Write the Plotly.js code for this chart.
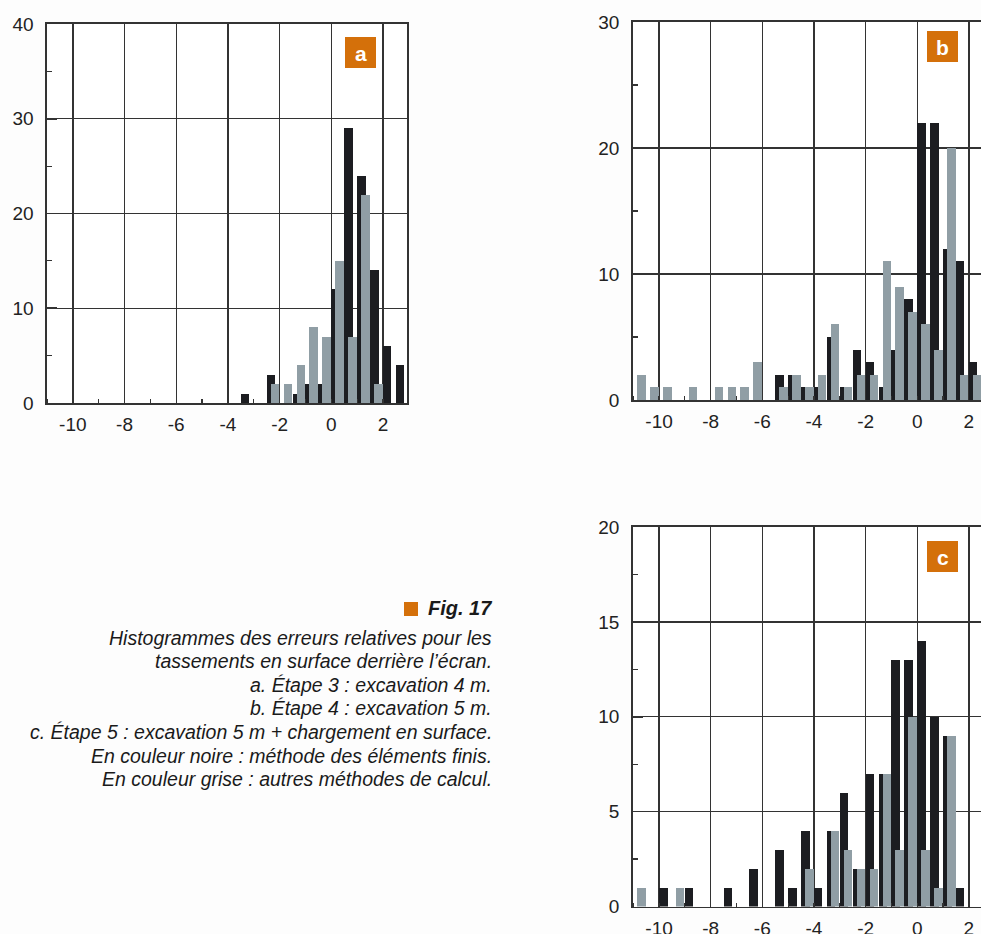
<!DOCTYPE html>
<html><head><meta charset="utf-8">
<script src="https://cdn.plot.ly/plotly-3.0.1.min.js"></script>
<style>body{margin:0;background:#fdfdfd}#chart{width:981px;height:934px}</style>
</head><body><div id="chart"></div><script>
// bin start positions (relative error)
const bins = [-11,-10.5,-10,-9.5,-9,-8.5,-8,-7.5,-7,-6.5,-6,-5.5,-5,-4.5,-4,-3.5,-3,-2.5,-2,-1.5,-1,-0.5,0,0.5,1,1.5,2,2.5];
// a. Étape 3
const blackA = [0,0,0,0,0,0,0,0,0,0,0,0,0,0,0,1,0,3,0,1,2,2,12,29,24,14,6,4];
const grayA  = [0,0,0,0,0,0,0,0,0,0,0,0,0,0,0,0,0,2,2,4,8,7,15,7,22,2,0,0];
// b. Étape 4
const blackB = [0,0,0,0,0,0,0,0,0,0,0,2,2,1,1,5,1,4,3,1,4,8,22,22,12,11,3,0];
const grayB  = [2,1,1,0,1,0,1,1,1,3,0,1,2,1,2,6,1,2,2,11,9,7,6,4,20,2,2,0];
// c. Étape 5
const blackC = [0,0,1,0,1,0,0,1,0,2,0,3,1,4,1,4,6,2,7,7,13,13,14,10,9,1,0,0];
const grayC  = [1,0,0,1,0,0,0,0,0,0,0,0,0,2,0,4,3,2,2,7,3,10,3,1,9,0,0,0];
const xTicks = [-10,-8,-6,-4,-2,0,2];
const panelLabels = ['a','b','c'];
const captionTitle = 'Fig. 17';
const captionLines = [
  'Histogrammes des erreurs relatives pour les',
  'tassements en surface derrière l\u2019écran.',
  'a. Étape 3 : excavation 4 m.',
  'b. Étape 4 : excavation 5 m.',
  'c. Étape 5 : excavation 5 m + chargement en surface.',
  'En couleur noire : méthode des éléments finis.',
  'En couleur grise : autres méthodes de calcul.'
];

const BLACK = '#1c1d21', GRAY = '#909ea5', ORANGE = '#d4700a', LINE = '#333333';
const W = 981, H = 934;
function px(x){return x/W;} function py(y){return 1-y/H;}

function barPair(bl, gr, ax){
  const xa = ax===1?'x':'x'+ax, ya = ax===1?'y':'y'+ax;
  return [
    {type:'bar', x:bins, y:bl, width:0.33, offset:0.0, marker:{color:BLACK,line:{width:0}}, xaxis:xa, yaxis:ya, showlegend:false, hoverinfo:'x+y'},
    {type:'bar', x:bins, y:gr, width:0.33, offset:0.155, marker:{color:GRAY,line:{width:0}}, xaxis:xa, yaxis:ya, showlegend:false, hoverinfo:'x+y'}
  ];
}
const data = [...barPair(blackA,grayA,1), ...barPair(blackB,grayB,2), ...barPair(blackC,grayC,3)];

const font = {family:'Liberation Sans, Arial, sans-serif', size:19, color:'#222'};
function xax(dom, range, anchor){
  return {domain:dom, range:range, anchor:anchor, tickvals:xTicks, ticktext:xTicks.map(String),
    showgrid:true, gridcolor:LINE, gridwidth:1.4, zeroline:false, showline:true, linecolor:LINE, linewidth:1.6,
    mirror:true, ticks:'', tickfont:font, ticklabelstandoff:4,
    minor:{dtick:1, tick0:-11, ticks:'inside', ticklen:4, tickcolor:LINE, tickwidth:1.2, showgrid:false},
    fixedrange:true};
}
function yax(dom, range, dtick, anchor){
  return {domain:dom, range:range, anchor:anchor, dtick:dtick, tick0:0,
    showgrid:true, gridcolor:LINE, gridwidth:1.4, zeroline:false, showline:true, linecolor:LINE, linewidth:1.6,
    mirror:true, ticks:'inside', ticklen:10, tickcolor:LINE, tickwidth:1.6, tickfont:font, ticklabelstandoff:8,
    minor:{dtick:dtick/2, tick0:0, ticks:'inside', ticklen:5, tickcolor:LINE, tickwidth:1.2, showgrid:false},
    fixedrange:true};
}

const annotations = [];
const shapes = [];
const labelPos = [[360.5,52.5],[942.5,46.5],[942.5,556.5]];
panelLabels.forEach((t,i)=>{
  const [cx,cy] = labelPos[i];
  shapes.push({type:'rect', xref:'paper', yref:'paper', x0:px(cx-15.5), x1:px(cx+15.5), y0:py(cy+15.5), y1:py(cy-15.5), fillcolor:ORANGE, line:{width:0}, layer:'above'});
  annotations.push({xref:'paper', yref:'paper', x:px(cx), y:py(cy+1), text:'<b>'+t+'</b>', showarrow:false, xanchor:'center', yanchor:'middle',
    font:{family:'Liberation Sans, Arial, sans-serif', size:21, color:'#fff'}});
});
// caption
const capFont = {family:'Liberation Sans, Arial, sans-serif', size:19.5, color:'#1a1a1a'};
shapes.push({type:'rect', xref:'paper', yref:'paper', x0:px(404), x1:px(418), y0:py(616), y1:py(602), fillcolor:ORANGE, line:{width:0}});
annotations.push({xref:'paper', yref:'paper', x:px(494), y:py(608), text:'<b><i>'+captionTitle+'</i></b>', showarrow:false, xanchor:'right', yanchor:'middle', font:{...capFont, size:20}});
captionLines.forEach((t,i)=>{
  annotations.push({xref:'paper', yref:'paper', x:px(494), y:py(637.5 + i*23.6), text:'<i>'+t+'</i>', showarrow:false, xanchor:'right', yanchor:'middle', font:capFont});
});

const layout = {
  width:W, height:H, margin:{l:0,r:0,t:0,b:0},
  paper_bgcolor:'#fdfdfd', plot_bgcolor:'#ffffff',
  barmode:'overlay', bargap:0,
  font:font, showlegend:false,
  xaxis: xax([px(47),px(407)], [-11,2.93], 'y'),
  yaxis: yax([py(403),py(24)], [0,40], 10, 'x'),
  xaxis2: xax([px(632.7),1], [-11.02,2.47], 'y2'),
  yaxis2: yax([py(400),py(22)], [0,30], 10, 'x2'),
  xaxis3: xax([px(632.7),1], [-11.02,2.47], 'y3'),
  yaxis3: yax([py(906.5),py(527)], [0,20], 5, 'x3'),
  shapes:shapes, annotations:annotations
};
Plotly.newPlot('chart', data, layout, {displayModeBar:false, staticPlot:true});
</script></body></html>
